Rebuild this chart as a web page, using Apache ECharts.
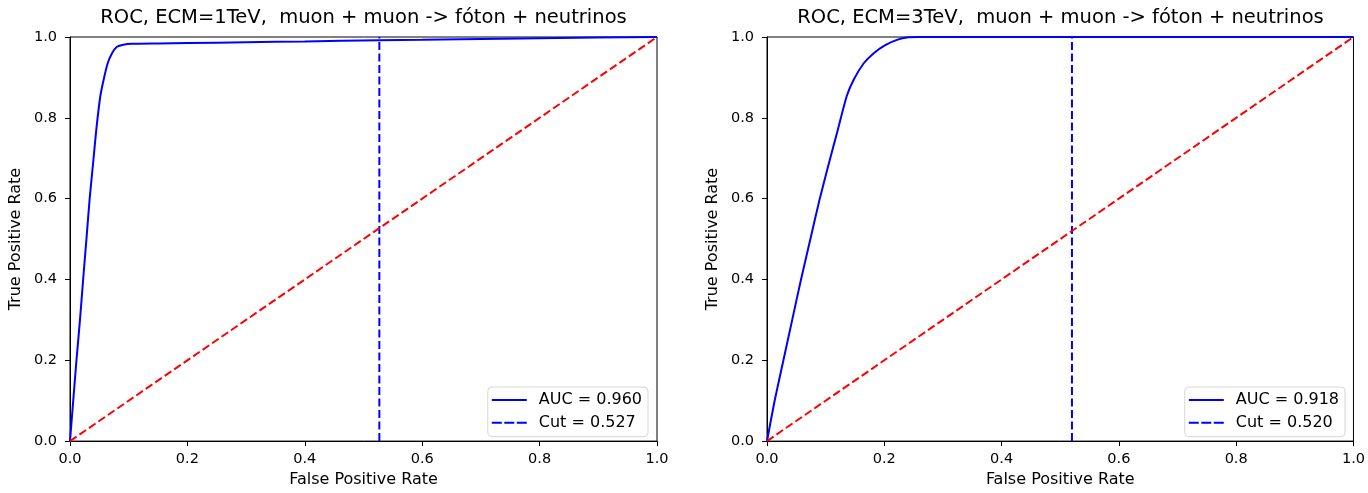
<!DOCTYPE html>
<html><head><meta charset="utf-8">
<script src="https://cdn.jsdelivr.net/npm/echarts@6/dist/echarts.min.js"></script>
<style>html,body{margin:0;padding:0;background:#fff}#c{width:1368px;height:493px}</style>
</head><body><div id="c"></div>
<script>
// Data
const titles = ["ROC, ECM=1TeV,  muon + muon -> fóton + neutrinos", "ROC, ECM=3TeV,  muon + muon -> fóton + neutrinos"];
const fpr1 = [0, 0.0055, 0.011, 0.017, 0.0224, 0.028, 0.0335, 0.0395, 0.0449, 0.0517, 0.0574, 0.0642, 0.0716, 0.080, 0.091, 0.106, 0.15, 0.2, 0.3, 0.4, 0.527, 0.6, 0.8, 1.0];
const tpr1 = [0, 0.10, 0.20, 0.30, 0.40, 0.50, 0.60, 0.69, 0.772, 0.854, 0.895, 0.935, 0.96, 0.976, 0.981, 0.983, 0.984, 0.985, 0.987, 0.989, 0.992, 0.993, 0.997, 1.0];
const fpr2 = [0, 0.013, 0.028, 0.043, 0.058, 0.074, 0.090, 0.106, 0.121, 0.136, 0.148, 0.165, 0.182, 0.2016, 0.2215, 0.241, 0.258, 0.3, 1.0];
const tpr2 = [0, 0.10, 0.20, 0.30, 0.40, 0.50, 0.60, 0.69, 0.772, 0.854, 0.895, 0.935, 0.96, 0.98, 0.993, 0.9993, 1.0, 1.0, 1.0];
const aucs = [0.960, 0.918];
const cuts = [0.527, 0.520];

const chart = echarts.init(document.getElementById('c'), null, {renderer: 'canvas'});
const FONT = 'DejaVu Sans';
const lefts = [70, 767];
const W = 587;
const grids = lefts.map(l => ({left: l, top: 37, width: W, height: 408, show: true, borderColor: '#000', borderWidth: 1, backgroundColor: 'transparent'}));
function axis(i, type) {
  const isX = type === 'x';
  return {
    type: 'value', gridIndex: i, min: 0, max: 1, interval: 0.2,
    name: isX ? 'False Positive Rate' : 'True Positive Rate',
    nameLocation: 'middle', nameGap: isX ? 30 : 46,
    nameTextStyle: {fontFamily: FONT, fontSize: 16, color: '#000'},
    axisLine: {show: true, onZero: false, lineStyle: {color: '#000', width: 1}},
    axisTick: {show: true, inside: false, length: 5, lineStyle: {color: '#000'}},
    axisLabel: {fontFamily: FONT, fontSize: 14.5, color: '#000', margin: isX ? 11 : 13, formatter: v => v.toFixed(1)},
    splitLine: {show: false}
  };
}
const dash = [8, 3.5];
const series = [];
const data = [[fpr1, tpr1], [fpr2, tpr2]];
for (let i = 0; i < 2; i++) {
  series.push({
    name: 'AUC = ' + aucs[i].toFixed(3), type: 'line', xAxisIndex: i, yAxisIndex: i,
    data: data[i][0].map((x, k) => [x, data[i][1][k]]), showSymbol: false, symbol: 'none',
    smooth: 0.2,
    lineStyle: {color: '#0000ff', width: 2}, itemStyle: {color: '#0000ff'}, z: 3
  });
  series.push({
    name: 'Cut = ' + cuts[i].toFixed(3), type: 'line', xAxisIndex: i, yAxisIndex: i,
    data: [[cuts[i], 0], [cuts[i], 1]], showSymbol: false, symbol: 'none',
    lineStyle: {color: '#0000ff', width: 2, type: dash}, itemStyle: {color: '#0000ff'}, z: 3
  });
  series.push({
    name: 'diag' + i, type: 'line', xAxisIndex: i, yAxisIndex: i,
    data: [[0, 0], [1, 1]], showSymbol: false, symbol: 'none',
    lineStyle: {color: '#ff0000', width: 2, type: dash}, z: 4
  });
}
const dashIcon = 'path://M0,0h10v2h-10zM12.5,0h10v2h-10zM25,0h10v2h-10z';
const legends = [0, 1].map(i => ({
  data: [{name: 'AUC = ' + aucs[i].toFixed(3), icon: 'rect'}, {name: 'Cut = ' + cuts[i].toFixed(3), icon: dashIcon}],
  orient: 'vertical', right: i === 0 ? 1368 - 648 : 1368 - 1345, top: 387,
  itemWidth: 35, itemHeight: 2, itemGap: 6.7,
  backgroundColor: '#fff', borderColor: '#d6d6d6', borderWidth: 1, borderRadius: 4,
  padding: [5, 6, 6, 4],
  textStyle: {fontFamily: FONT, fontSize: 16, color: '#000', lineHeight: 16, padding: [0, 0, 0, 7]}
}));
chart.setOption({
  animation: false,
  title: titles.map((t, i) => ({text: t, left: lefts[i] + W / 2, top: 8, padding: 0, textAlign: 'center',
    textStyle: {fontFamily: FONT, fontSize: 19.5, fontWeight: 'normal', color: '#000'}})),
  grid: grids,
  xAxis: [axis(0, 'x'), axis(1, 'x')],
  yAxis: [axis(0, 'y'), axis(1, 'y')],
  legend: legends,
  series: series
});
</script></body></html>
